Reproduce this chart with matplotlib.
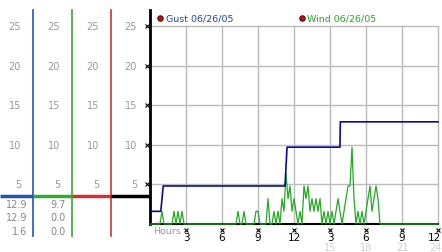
import numpy as np
import matplotlib
matplotlib.use('Agg')
import matplotlib.pyplot as plt

# gust line (step values, mph)
gust_hours = [0, 0.9, 1.1, 11.25, 11.42, 15.83, 15.86, 24]
gust_mph = [1.6, 1.6, 4.8, 4.8, 9.7, 9.7, 12.9, 12.9]

# wind, one value every 10 minutes, one row per hour
wind_rows = [
    [0, 0, 0, 0, 0, 0],
    [1.6, 0, 0, 0, 0, 0],
    [1.6, 0, 1.6, 0, 1.6, 0],
    [0, 0, 0, 0, 0, 0],
    [0, 0, 0, 0, 0, 0],
    [0, 0, 0, 0, 0, 0],
    [0, 0, 0, 0, 0, 0],
    [0, 0, 1.6, 0, 0, 1.6],
    [0, 0, 0, 0, 0, 1.6],
    [1.6, 0, 0, 0, 0, 3.2],
    [0, 0, 1.6, 0, 1.6, 0],
    [3.2, 1.6, 6.4, 3.2, 4.8, 1.6],
    [3.2, 1.6, 0, 1.6, 0, 4.8],
    [3.2, 4.8, 1.6, 3.2, 1.6, 3.2],
    [1.6, 3.2, 0, 1.6, 0, 1.6],
    [0, 1.6, 0, 1.6, 3.2, 1.6],
    [0, 1.6, 3.2, 4.8, 4.8, 9.7],
    [3.2, 0, 1.6, 0, 1.6, 0],
    [1.6, 3.2, 4.8, 1.6, 3.2, 4.8],
    [3.2, 0, 0, 0, 0, 0],
    [0, 0, 0, 0, 0, 0],
    [0, 0, 0, 0, 0, 0],
    [0, 0, 0, 0, 0, 0],
    [0, 0, 0, 0, 0, 0],
]
wind_mph = [v for row in wind_rows for v in row] + [0]
wind_hours = [i / 6 for i in range(len(wind_mph))]

levels = [5, 10, 15, 20, 25]
hour_ticks = [3, 6, 9, 12, 15, 18, 21, 24]
hour_labels = ['3', '6', '9', '12', '3', '6', '9', '12']
day2_ticks = [15, 18, 21, 24]
day2_labels = ['15', '18', '21', '24']

col_colors = ['#2255bb', '#33aa33', '#cc3333', 'black']
col_values = [['12.9', '12.9', '1.6'], ['9.7', '0.0', '0.0'], [], []]
current_level = 3.5

W, H = 442, 253
fig = plt.figure(figsize=(W / 100, H / 100), dpi=100)
fig.patch.set_facecolor('white')

px = 7.92  # pixels per mph
hpx = 12.0  # pixels per hour
# main plot
ax = fig.add_axes([150 / W, (H - 225) / H, 288 / W, 198 / H])
ax.set_xlim(0, 24)
ax.set_ylim(0, 25)
ax.axis('off')

grid_c = '#bbbbbb'
for lv in levels:
    ax.plot([0, 24], [lv, lv], color=grid_c, lw=1, clip_on=False)
for h in hour_ticks:
    ax.plot([h, h], [0, 25], color=grid_c, lw=1, clip_on=False)

ax.plot(wind_hours, wind_mph, color='#22aa22', lw=0.9, clip_on=False, zorder=3)
ax.plot([0, 24], [0, 0], color='black', lw=1.5, zorder=2, clip_on=False)
ax.plot(gust_hours, gust_mph, color='#0a0a90', lw=1.2, clip_on=False, zorder=4)
ax.plot([0, 0], [0, 214 / px], color='black', lw=2, clip_on=False)

# tick glyphs
ax.plot([-0.25] * len(levels), levels, ls='none', marker='x', ms=2.5, mew=0.8, color='black', clip_on=False)
ax.plot(hour_ticks, [-6 / px] * len(hour_ticks), ls='none', marker='x', ms=2.5, mew=0.8, color='black', clip_on=False)
for h, lab in zip(hour_ticks, hour_labels):
    if h == 24:
        ax.text(h + 3.5 / hpx, -13 / px, lab, ha='right', va='center', fontsize=7.5, color='black', clip_on=False)
    else:
        ax.text(h, -13 / px, lab, ha='center', va='center', fontsize=7.5, color='black', clip_on=False)
for h, lab in zip(day2_ticks, day2_labels):
    if h == 24:
        ax.text(h + 3.5 / hpx, -23 / px, lab, ha='right', va='center', fontsize=7, color='#d0d0d0', clip_on=False)
    else:
        ax.text(h, -23 / px, lab, ha='center', va='center', fontsize=7, color='#d0d0d0', clip_on=False)
ax.text(0.25, -7 / px, 'Hours', ha='left', va='center', fontsize=6.8, color='#999999')

# legend
ax.plot([0.85], [206 / px], ls='none', marker='o', ms=4, mfc='#bb1111', mec='#330000', mew=0.6, clip_on=False)
ax.text(1.3, 206 / px, 'Gust 06/26/05', ha='left', va='center', fontsize=6.8, color='#2244aa')
ax.plot([12.67], [206 / px], ls='none', marker='o', ms=4, mfc='#bb1111', mec='#330000', mew=0.6, clip_on=False)
ax.text(13.12, 206 / px, 'Wind 06/26/05', ha='left', va='center', fontsize=6.8, color='#22aa22')

# left columns
lax = fig.add_axes([0, (H - 225) / H, 149 / W, 198 / H])
lax.set_xlim(0, 149)
lax.set_ylim(0, 25)
lax.axis('off')
edges = [0, 33, 72, 111, 149]
for i, c in enumerate(col_colors):
    x0, x1 = edges[i], edges[i + 1]
    for lv in levels:
        lax.text(x1 - 12, lv, str(lv), ha='right', va='center', fontsize=7, color='#999999')
    lax.plot([x0, x1], [current_level, current_level], color=c, lw=2.5, solid_capstyle='butt', clip_on=False)
    if c != 'black':
        lax.plot([x1, x1], [-12 / px, 214 / px], color=c, lw=1.2, clip_on=False)
    for k, v in enumerate(col_values[i]):
        lax.text(x1 - 6, (20 - 13.5 * k) / px, v, ha='right', va='center', fontsize=7, color='#888888')

fig.savefig('out.png', dpi=100)
